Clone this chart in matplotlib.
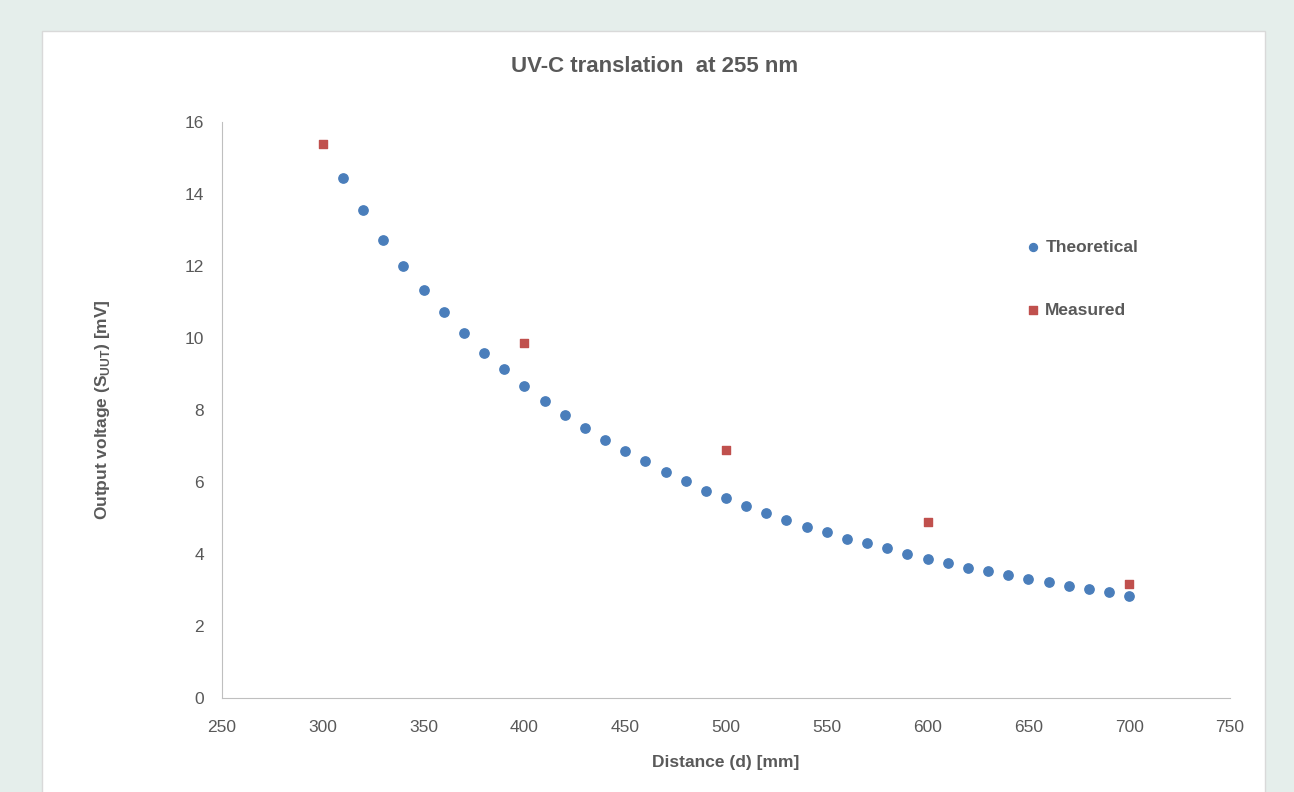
import matplotlib.pyplot as plt
from matplotlib.patches import Rectangle

plt.rcParams['font.family'] = ['Liberation Sans', 'DejaVu Sans']

# Theoretical curve
theo_d = [310, 320, 330, 340, 350, 360, 370, 380, 390, 400,
          410, 420, 430, 440, 450, 460, 470, 480, 490, 500,
          510, 520, 530, 540, 550, 560, 570, 580, 590, 600,
          610, 620, 630, 640, 650, 660, 670, 680, 690, 700]
theo_v = [14.44, 13.56, 12.72, 12.0, 11.33, 10.72, 10.14, 9.58, 9.14, 8.67,
          8.25, 7.86, 7.5, 7.17, 6.86, 6.58, 6.28, 6.03, 5.75, 5.56,
          5.33, 5.14, 4.94, 4.75, 4.61, 4.42, 4.31, 4.17, 4.0, 3.86,
          3.75, 3.61, 3.53, 3.42, 3.31, 3.22, 3.11, 3.03, 2.94, 2.83]

# Measured points
meas_d = [300, 400, 500, 600, 700]
meas_v = [15.39, 9.86, 6.89, 4.89, 3.17]

grey = '#595959'

fig = plt.figure(figsize=(12.94, 7.92), dpi=100)
fig.patch.set_facecolor('#E5EEEB')
fig.patches.append(Rectangle((42 / 1294, -0.05), (1265 - 42) / 1294, 1 - 31 / 792 + 0.05,
                             transform=fig.transFigure, facecolor='white',
                             edgecolor='#D9D9D9', linewidth=1, zorder=-5))

ax = fig.add_axes([222 / 1294, 1 - 698 / 792, (1230 - 222) / 1294, (698 - 122) / 792])
ax.set_facecolor('none')

ax.scatter(theo_d, theo_v, s=45, marker='o', color='#4A7EBB', label='Theoretical', zorder=3)
ax.scatter(meas_d, meas_v, s=38, marker='s', color='#C0504D', label='Measured', zorder=3)

ax.set_xlim(250, 750)
ax.set_ylim(0, 16)
ax.set_xticks(range(250, 751, 50))
ax.set_yticks(range(0, 17, 2))
ax.tick_params(length=0, labelsize=12.5, colors=grey)
ax.tick_params(axis='x', pad=16)
ax.tick_params(axis='y', pad=13)

for side in ['top', 'right']:
    ax.spines[side].set_visible(False)
for side in ['left', 'bottom']:
    ax.spines[side].set_color('#BFBFBF')

ax.set_xlabel('Distance (d) [mm]', fontsize=12.5, fontweight='bold', color=grey, labelpad=14)
ax.set_ylabel('Output voltage (S$_{\\mathregular{UUT}}$) [mV]', fontsize=12.5,
              fontweight='bold', color=grey, labelpad=52)

fig.text(655 / 1294, 1 - 67 / 792, 'UV-C translation  at 255 nm', ha='center', va='center',
         fontsize=16, fontweight='bold', color=grey)

ax.legend(loc='upper left', bbox_to_anchor=(0.772, 0.823), frameon=False,
          labelspacing=2.75, handletextpad=-0.3, markerscale=0.85, labelcolor=grey,
          prop={'weight': 'bold', 'size': 12.5})

fig.savefig('out.png', dpi=100, facecolor=fig.get_facecolor())
